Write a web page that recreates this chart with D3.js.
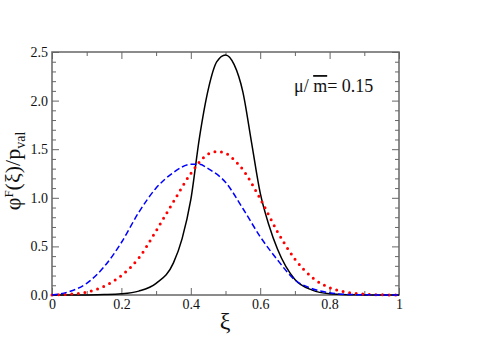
<!doctype html>
<html>
<head>
<meta charset="utf-8">
<script src="https://cdn.jsdelivr.net/npm/d3@7"></script>
<style>
    body { margin: 0; background: #fff; }
    text { font-family: "Liberation Serif", "Times New Roman", Times, "DejaVu Serif", serif; fill: #111; }
    .frame { fill: none; stroke: #666; stroke-width: 1.5; }
    .tick line { stroke: #666; stroke-width: 1; }
    .curve { fill: none; }
</style>
</head>
<body>
<svg width="491" height="347"></svg>
<script>
// solid black curve
var xiBlack  = [0, 0.05, 0.1, 0.15, 0.2, 0.25, 0.3, 0.35, 0.375, 0.4, 0.425, 0.45, 0.475, 0.5,
                0.525, 0.55, 0.575, 0.6, 0.625, 0.65, 0.7, 0.75, 0.8, 0.85, 0.9, 0.95, 1];
var phiBlack = [0, 0, 0.001, 0.004, 0.012, 0.04, 0.12, 0.33, 0.58, 0.98, 1.62, 2.11, 2.40, 2.47,
                2.37, 2.09, 1.57, 1.05, 0.72, 0.47, 0.16, 0.05, 0.012, 0.003, 0.001, 0, 0];

// red dotted curve
var xiRed  = [0, 0.05, 0.1, 0.15, 0.2, 0.25, 0.3, 0.35, 0.4, 0.45, 0.475, 0.5, 0.525, 0.55,
              0.6, 0.65, 0.7, 0.75, 0.8, 0.85, 0.9, 0.95, 1];
var phiRed = [0, 0.008, 0.03, 0.09, 0.20, 0.38, 0.66, 0.96, 1.25, 1.45, 1.475, 1.46, 1.39, 1.29,
              0.99, 0.65, 0.37, 0.18, 0.075, 0.028, 0.008, 0.002, 0];

// blue dashed curve
var xiBlue  = [0, 0.05, 0.1, 0.15, 0.2, 0.25, 0.3, 0.35, 0.4, 0.425, 0.45, 0.5, 0.55,
               0.6, 0.65, 0.7, 0.75, 0.8, 0.85, 0.9, 0.95, 1];
var phiBlue = [0, 0.035, 0.12, 0.29, 0.54, 0.85, 1.10, 1.26, 1.345, 1.345, 1.30, 1.16, 0.89,
               0.60, 0.36, 0.155, 0.065, 0.022, 0.006, 0.002, 0, 0];

var xMajor = [0, 0.2, 0.4, 0.6, 0.8, 1];
var xMinor = [0.1, 0.3, 0.5, 0.7, 0.9];
var yMajor = [0, 0.5, 1.0, 1.5, 2.0, 2.5];
var yMinor = [0.1, 0.2, 0.3, 0.4, 0.6, 0.7, 0.8, 0.9, 1.1, 1.2, 1.3, 1.4,
              1.6, 1.7, 1.8, 1.9, 2.1, 2.2, 2.3, 2.4];

var svg = d3.select("svg"),
    marginLeft = 52, marginTop = 52,
    width = 347, height = 243;

var x = d3.scaleLinear().domain([0, 1]).range([0, width]),
    y = d3.scaleLinear().domain([0, 2.5]).range([height, 0]);

var g = svg.append("g")
    .attr("transform", "translate(" + marginLeft + "," + marginTop + ")");

var xFormat = function(d) { return (d === 0 || d === 1) ? String(d) : d.toFixed(1); };
var yFormat = function(d) { return d.toFixed(1); };

// ticks on all four sides, pointing inward
function ticks(axis, pos, values, size, fmt, pad) {
    var a = g.append("g")
        .attr("transform", pos)
        .attr("font-family", null)
        .call(axis.tickValues(values).tickSize(-size).tickPadding(pad || 3)
                  .tickFormat(fmt || ""));
    a.attr("font-family", null);
    a.select(".domain").remove();
    a.selectAll("text").attr("font-size", "14px").attr("fill", "#111");
    return a;
}

ticks(d3.axisBottom(x), "translate(0," + height + ")", xMajor, 7, xFormat, 4);
ticks(d3.axisBottom(x), "translate(0," + height + ")", xMinor, 4);
ticks(d3.axisTop(x), "translate(0,0)", xMajor, 7);
ticks(d3.axisTop(x), "translate(0,0)", xMinor, 4);
ticks(d3.axisLeft(y), "translate(0,0)", yMajor, 7, yFormat, 4);
ticks(d3.axisLeft(y), "translate(0,0)", yMinor, 4);
ticks(d3.axisRight(y), "translate(" + width + ",0)", yMajor, 7);
ticks(d3.axisRight(y), "translate(" + width + ",0)", yMinor, 4);

g.append("rect")
    .attr("class", "frame")
    .attr("x", x(0)).attr("y", y(2.5))
    .attr("width", x(1) - x(0)).attr("height", y(0) - y(2.5));

function lineOf(xs, ys) {
    return d3.line()
        .x(function(d, i) { return x(xs[i]); })
        .y(function(d) { return y(d); })
        .curve(d3.curveMonotoneX)(ys);
}

g.append("path")
    .attr("class", "curve")
    .attr("d", lineOf(xiBlack, phiBlack))
    .attr("stroke", "#000")
    .attr("stroke-width", 1.5);

g.append("path")
    .attr("class", "curve")
    .attr("d", lineOf(xiRed, phiRed))
    .attr("stroke", "#ff0000")
    .attr("stroke-width", 3)
    .attr("stroke-linecap", "round")
    .attr("stroke-dasharray", "0 6.6");

g.append("path")
    .attr("class", "curve")
    .attr("d", lineOf(xiBlue, phiBlue))
    .attr("stroke", "#0000ff")
    .attr("stroke-width", 1.5)
    .attr("stroke-dasharray", "6 3");

// annotation
var note = svg.append("text")
    .attr("x", 294).attr("y", 92)
    .attr("font-size", "18px");
note.append("tspan").text("\u03bc/ ");
note.append("tspan").style("text-decoration", "overline").text("m");
note.append("tspan").text("= 0.15");

// x label
svg.append("text")
    .attr("x", 225).attr("y", 329)
    .attr("text-anchor", "middle")
    .attr("font-size", "24px")
    .text("\u03be");

// y label
var yl = svg.append("text")
    .attr("transform", "translate(20,171) rotate(-90)")
    .attr("text-anchor", "middle")
    .attr("font-size", "22px");
yl.append("tspan").text("\u03c6");
yl.append("tspan").attr("font-size", "13px").attr("dy", "-7").text("F");
yl.append("tspan").attr("dy", "7").text("(\u03be)/p");
yl.append("tspan").attr("font-size", "14px").attr("dy", "5").text("val");
</script>
</body>
</html>
